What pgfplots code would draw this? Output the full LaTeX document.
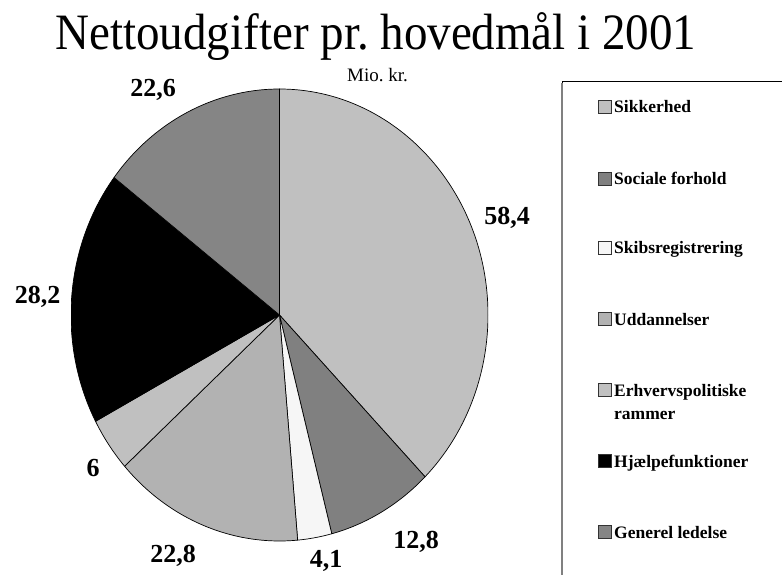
\documentclass[border=0pt]{standalone}
\usepackage{pgfplots}
\usepackage{pgfplotstable}
\pgfplotsset{compat=1.18}
\usepackage{fontspec}
\setmainfont{Liberation Serif}
\frenchspacing
\definecolor{csik}{HTML}{C0C0C0}
\definecolor{csoc}{HTML}{808080}
\definecolor{cski}{HTML}{F6F6F6}
\definecolor{cudd}{HTML}{B2B2B2}
\definecolor{cerh}{HTML}{C0C0C0}
\definecolor{chja}{HTML}{000000}
\definecolor{cgen}{HTML}{858585}
\pgfplotstableread{
val col
58.4 csik
12.8 csoc
4.1 cski
22.8 cudd
6 cerh
28.2 chja
22.6 cgen
}\pietable
\begin{document}
% compute slice angles from the table
\gdef\pietotal{0}%
\foreach \i in {0,...,6}{%
  \pgfplotstablegetelem{\i}{val}\of\pietable
  \pgfmathsetmacro\tmp{\pietotal+\pgfplotsretval}%
  \xdef\pietotal{\tmp}%
}%
\gdef\pieang{90}%
\foreach \i in {0,...,6}{%
  \pgfplotstablegetelem{\i}{val}\of\pietable \let\sv\pgfplotsretval
  \pgfplotstablegetelem{\i}{col}\of\pietable \let\scol\pgfplotsretval
  \pgfmathsetmacro\pe{\pieang-\sv/\pietotal*360}%
  \pgfmathsetmacro\pcx{cos(\pieang)}%
  \pgfmathsetmacro\pcy{sin(\pieang)}%
  \expandafter\xdef\csname pieS\i\endcsname{\pieang}%
  \expandafter\xdef\csname pieE\i\endcsname{\pe}%
  \expandafter\xdef\csname pieX\i\endcsname{\pcx}%
  \expandafter\xdef\csname pieY\i\endcsname{\pcy}%
  \expandafter\xdef\csname pieC\i\endcsname{\scol}%
  \xdef\pieang{\pe}%
}%
\begin{tikzpicture}[x=1pt,y=1pt]
\path[use as bounding box] (0,0) rectangle (782,574);
\clip (0,0) rectangle (782,574);
\begin{axis}[hide axis, scale only axis, width=417pt, height=452pt,
  xmin=-1, xmax=1, ymin=-1, ymax=1, at={(279.5pt,259pt)}, anchor=center]
\addplot[draw=none] coordinates {(0,0)};
\pgfplotsinvokeforeach{0,...,6}{%
  \edef\temp{\noexpand\fill[fill=\csname pieC#1\endcsname, draw=black, line width=0.7pt, line join=round]
    (axis cs:0,0) -- (axis cs:\csname pieX#1\endcsname,\csname pieY#1\endcsname)
    arc[start angle=\csname pieS#1\endcsname, end angle=\csname pieE#1\endcsname, x radius=208.5pt, y radius=226pt] -- cycle;}%
  \temp
}
\end{axis}
% title
\node[anchor=base, inner sep=0pt, font=\fontsize{50}{60}\selectfont] at (376,524)
  {\scalebox{0.94}[1.02]{Nettoudgifter pr. hovedmål i 2001}};
\node[anchor=base west, inner sep=0pt, font=\fontsize{19}{22}\selectfont] at (347,492) {Mio. kr.};
% data labels
\begin{scope}[every node/.style={font=\bfseries\fontsize{26}{30}\selectfont, inner sep=0pt}]
\node at (153,484) {22,6};
\node at (507,356) {58,4};
\node at (37.5,277) {28,2};
\node at (93,106) {6};
\node at (173,18) {22,8};
\node at (326,13) {4,1};
\node at (416,32) {12,8};
\end{scope}
% legend
\draw[line width=1pt, draw=black] (562,-10) -- (562,492) -- (800,492);
\draw[line width=2pt, draw=gray] (562,-10) -- (562,491);
\begin{scope}[every node/.style={font=\bfseries\fontsize{17.5}{21}\selectfont, inner sep=0pt, anchor=base west}]
\foreach \yy/\cc/\lab in {461/csik/Sikkerhed, 389/csoc/Sociale forhold, 320/cski/Skibsregistrering, 249/cudd/Uddannelser, 178/cerh/Erhvervspolitiske, 107/chja/Hjælpefunktioner, 36/cgen/Generel ledelse}{
  \fill[fill=\cc, draw=black!80, line width=0.8pt] (598,\yy) rectangle (611,\yy+13);
  \node at (614,\yy) {\lab};
}
\node at (614,155) {rammer};
\end{scope}
\end{tikzpicture}
\end{document}
